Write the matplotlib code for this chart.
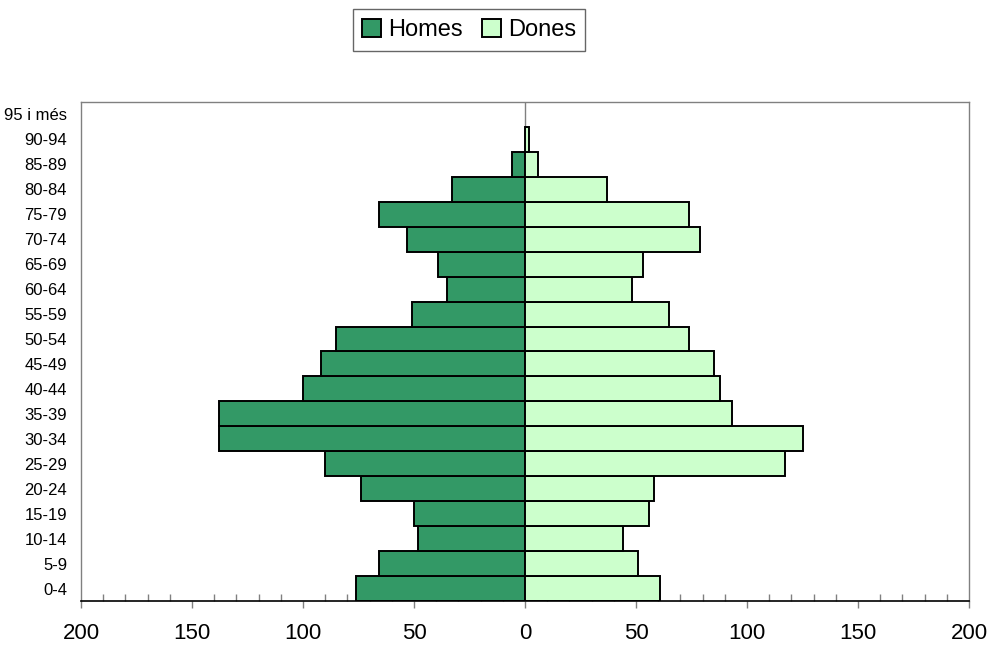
import matplotlib.pyplot as plt
from matplotlib.ticker import MultipleLocator, FuncFormatter

plt.rcParams['font.family'] = ['Liberation Sans', 'DejaVu Sans']

# Age groups, bottom to top
grups = ['0-4', '5-9', '10-14', '15-19', '20-24', '25-29', '30-34', '35-39',
         '40-44', '45-49', '50-54', '55-59', '60-64', '65-69', '70-74',
         '75-79', '80-84', '85-89', '90-94', '95 i més']
homes = [76, 66, 48, 50, 74, 90, 138, 138, 100, 92, 85, 51, 35, 39, 53,
         66, 33, 6, 0, 0]
dones = [61, 51, 44, 56, 58, 117, 125, 93, 88, 85, 74, 65, 48, 53, 79,
         74, 37, 6, 2, 0]

fig = plt.figure(figsize=(9.94, 6.52), dpi=100)
ax = fig.add_axes([0.0815, 0.0782, 0.8934, 0.7654])

y = range(len(grups))
ax.axvline(0, color='#808080', lw=1, zorder=1)
# no outline for empty bars, so the zero line stays grey there
lw_h = [1.4 if v else 0 for v in homes]
lw_d = [1.4 if v else 0 for v in dones]
bh = ax.barh(y, [-v for v in homes], height=1.0, color='#339966',
             edgecolor='black', linewidth=lw_h, label='Homes', zorder=2)
bd = ax.barh(y, dones, height=1.0, color='#CCFFCC',
             edgecolor='black', linewidth=lw_d, label='Dones', zorder=2)

ax.set_xlim(-200, 200)
ax.set_ylim(-0.5, len(grups) - 0.5)
ax.set_yticks(list(y))
ax.set_yticklabels(grups, fontsize=12)
ax.tick_params(axis='y', length=0, pad=10)

ax.xaxis.set_major_locator(MultipleLocator(50))
ax.xaxis.set_minor_locator(MultipleLocator(10))
ax.xaxis.set_major_formatter(FuncFormatter(lambda v, p: f'{abs(int(v))}'))
ax.tick_params(axis='x', which='major', direction='out', length=5,
               width=1, color='#808080', labelsize=16, pad=11)
ax.tick_params(axis='x', which='minor', direction='in', length=5,
               width=1, color='#808080')

for s in ['left', 'right', 'top']:
    ax.spines[s].set_color('#808080')
    ax.spines[s].set_linewidth(1)
ax.spines['bottom'].set_color('black')
ax.spines['bottom'].set_linewidth(1.2)

leg = fig.legend(handles=[bh, bd], loc='center', bbox_to_anchor=(0.472, 0.954),
                 ncol=2, fontsize=17, frameon=True, fancybox=False,
                 handlelength=0.8, handleheight=0.8, handletextpad=0.3,
                 columnspacing=0.8, borderpad=0.4, borderaxespad=0)
leg.get_frame().set_edgecolor('#404040')
leg.get_frame().set_linewidth(1)
for h in leg.legend_handles:
    h.set_linewidth(1.4)

fig.savefig('out.png', dpi=100)
